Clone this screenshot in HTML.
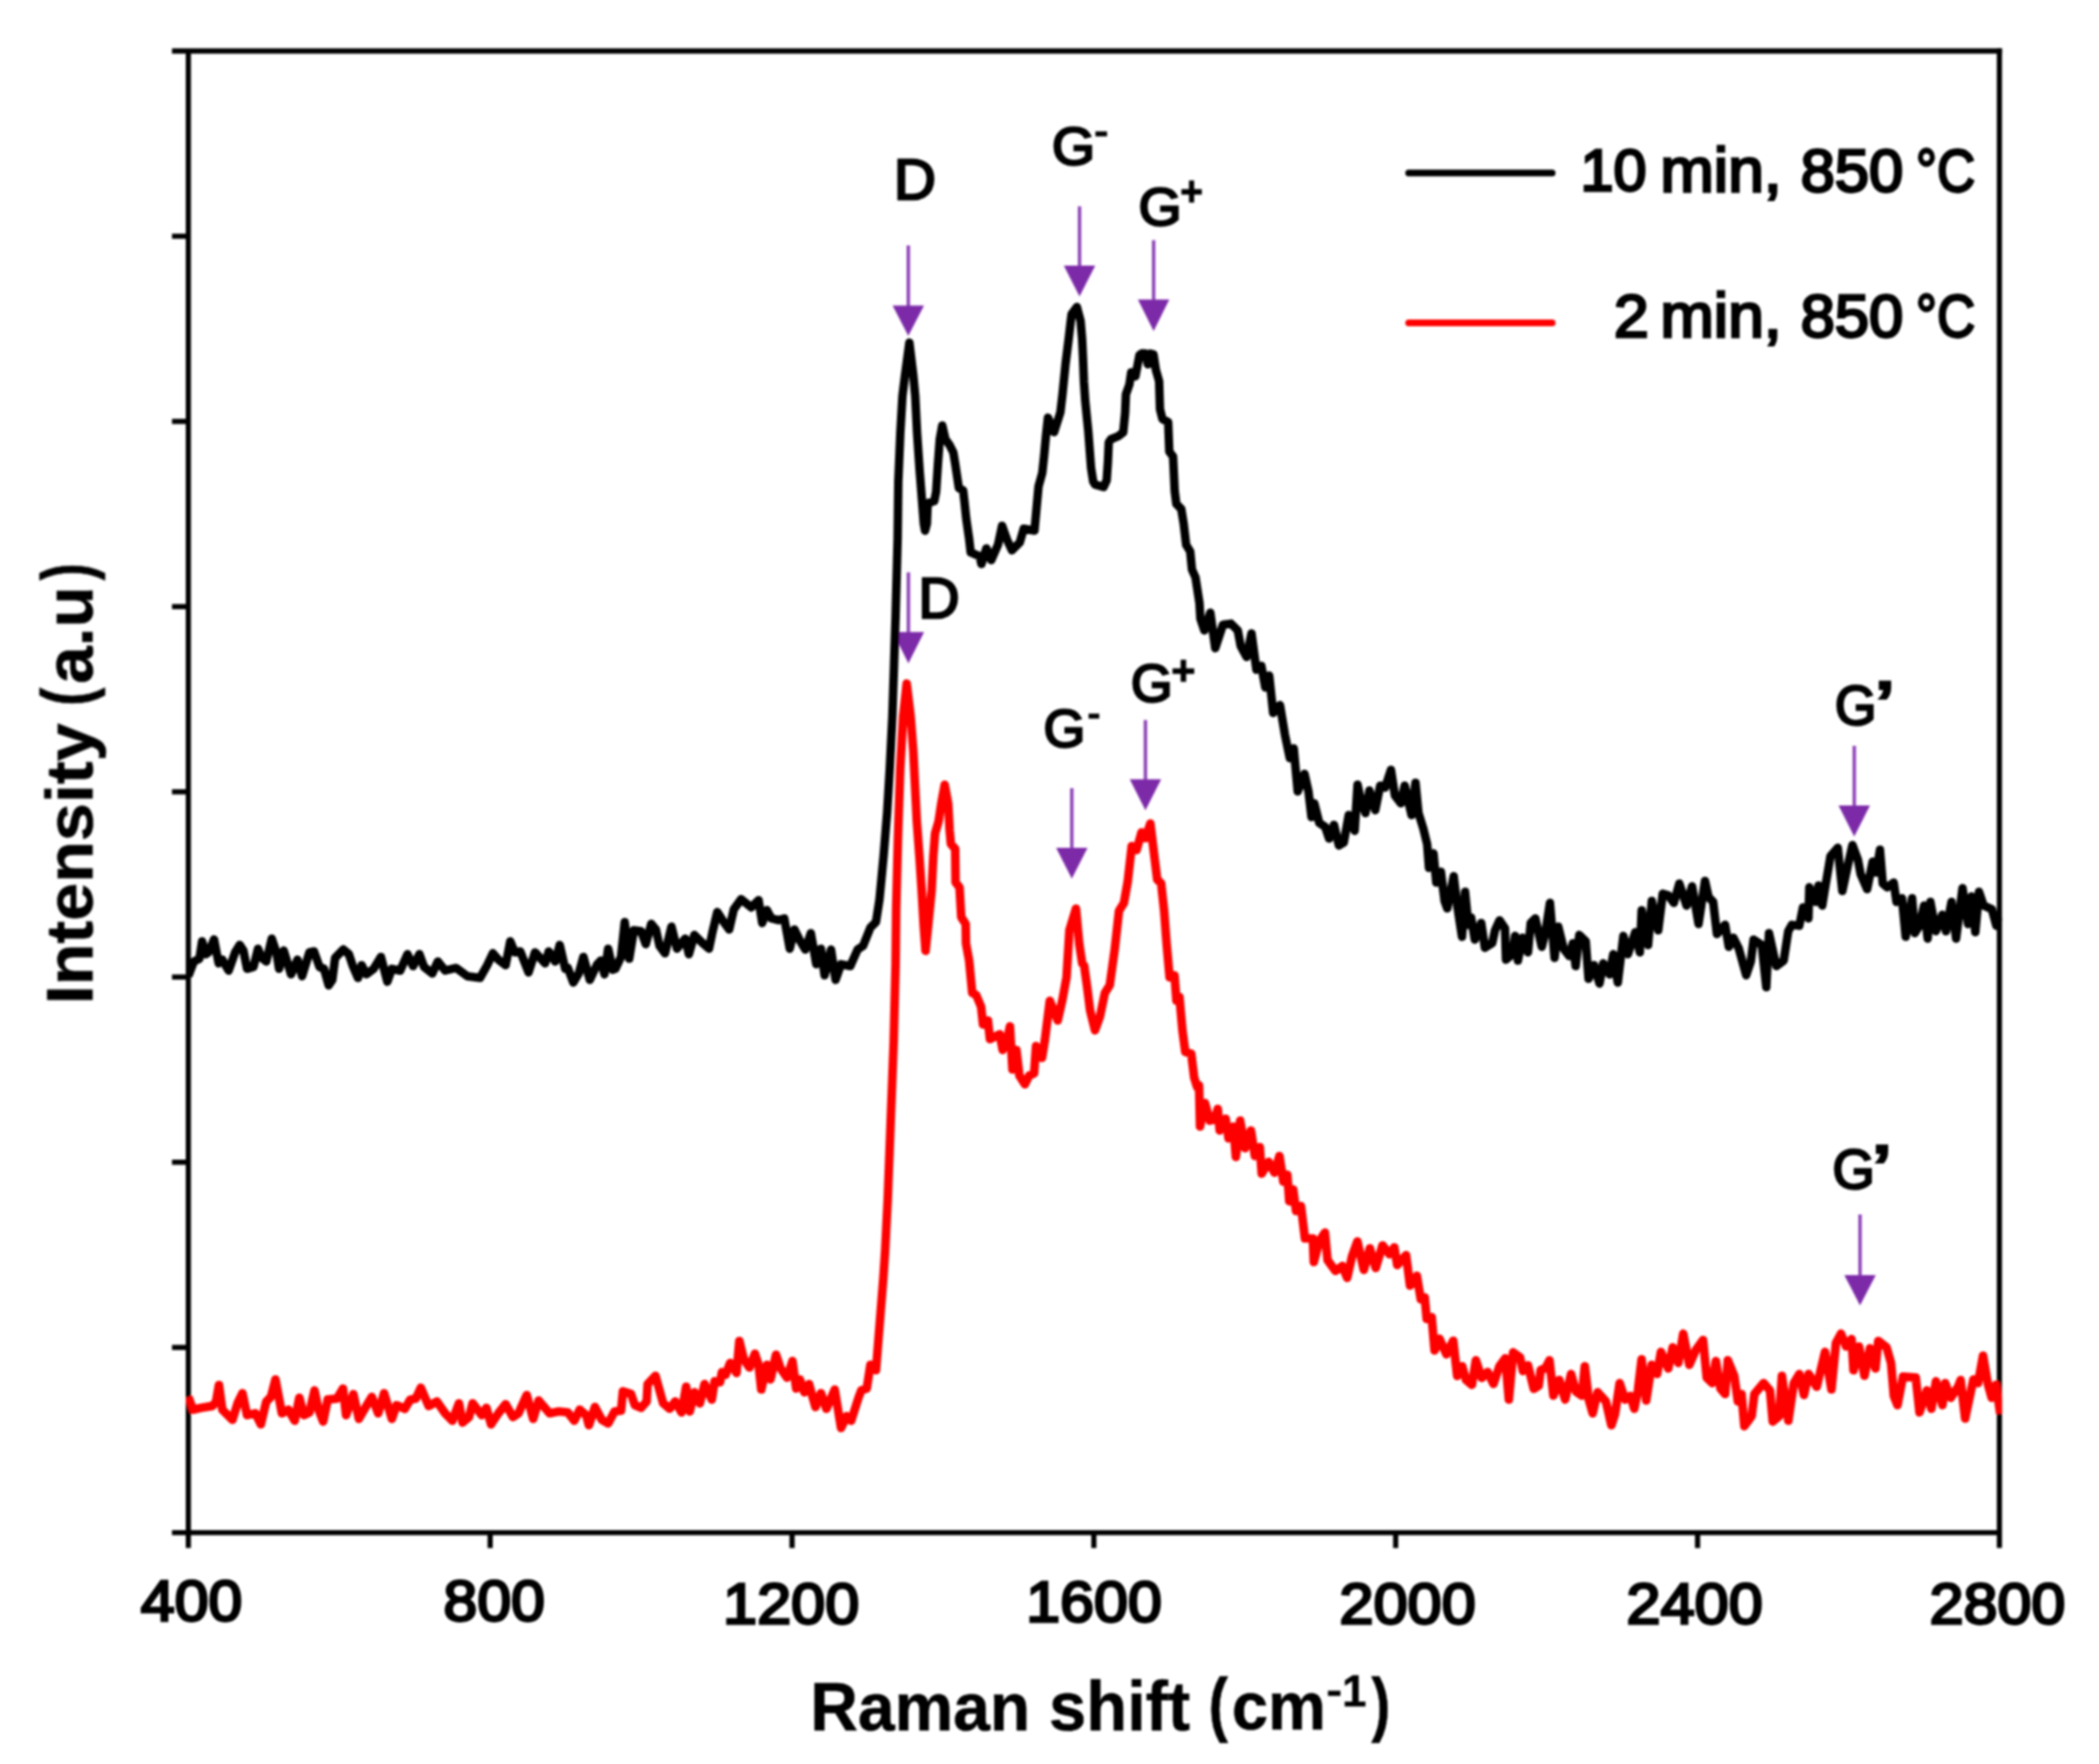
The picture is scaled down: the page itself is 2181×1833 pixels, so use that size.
<!DOCTYPE html>
<html lang="en"><head><meta charset="utf-8"><title>Raman spectra</title>
<style>html,body{margin:0;padding:0;background:#fff}svg{display:block}</style></head>
<body>
<svg width="2181" height="1833" viewBox="0 0 2181 1833">
<rect width="2181" height="1833" fill="#fff"/>
<defs><filter id="soft" x="0" y="0" width="100%" height="100%" filterUnits="userSpaceOnUse"><feGaussianBlur stdDeviation="1.0"/></filter><clipPath id="plot"><rect x="193" y="40" width="1887.2" height="1560"/></clipPath></defs>
<g filter="url(#soft)">
<g id="arrows"><line x1="943.8" y1="255" x2="943.8" y2="318.5" stroke="#8f45b8" stroke-width="3.6"/><polygon points="927.5,317.5 960.0999999999999,317.5 943.8,349" fill="#7d2aa8"/><line x1="1121.7" y1="214.4" x2="1121.7" y2="277" stroke="#8f45b8" stroke-width="3.6"/><polygon points="1105.4,276 1138.0,276 1121.7,308" fill="#7d2aa8"/><line x1="1198.7" y1="249.6" x2="1198.7" y2="312.3" stroke="#8f45b8" stroke-width="3.6"/><polygon points="1182.4,311.3 1215.0,311.3 1198.7,344" fill="#7d2aa8"/><line x1="943.9" y1="594.7" x2="943.9" y2="657.8" stroke="#8f45b8" stroke-width="3.6"/><polygon points="927.6,656.8 960.1999999999999,656.8 943.9,689.3" fill="#7d2aa8"/><line x1="1113.7" y1="819" x2="1113.7" y2="882" stroke="#8f45b8" stroke-width="3.6"/><polygon points="1097.4,881 1130.0,881 1113.7,913" fill="#7d2aa8"/><line x1="1190.2" y1="748.2" x2="1190.2" y2="810.8" stroke="#8f45b8" stroke-width="3.6"/><polygon points="1173.9,809.8 1206.5,809.8 1190.2,842" fill="#7d2aa8"/><line x1="1926.7" y1="775" x2="1926.7" y2="838" stroke="#8f45b8" stroke-width="3.6"/><polygon points="1910.4,837 1943.0,837 1926.7,869.2" fill="#7d2aa8"/><line x1="1932.7" y1="1262" x2="1932.7" y2="1326" stroke="#8f45b8" stroke-width="3.6"/><polygon points="1916.4,1325 1949.0,1325 1932.7,1356.4" fill="#7d2aa8"/></g>
<g id="axes" stroke="#000" stroke-width="5.4" fill="none" stroke-linecap="butt"><line x1="178.7" y1="53.0" x2="2080.2" y2="53.0"/><line x1="195.7" y1="53.0" x2="195.7" y2="1608.6"/><line x1="2077.5" y1="50.3" x2="2077.5" y2="1608.6"/><line x1="178.7" y1="1592.6" x2="2077.5" y2="1592.6"/><line x1="178.7" y1="245.45" x2="195.7" y2="245.45"/><line x1="178.7" y1="437.9" x2="195.7" y2="437.9"/><line x1="178.7" y1="630.3499999999999" x2="195.7" y2="630.3499999999999"/><line x1="178.7" y1="822.8" x2="195.7" y2="822.8"/><line x1="178.7" y1="1015.25" x2="195.7" y2="1015.25"/><line x1="178.7" y1="1207.6999999999998" x2="195.7" y2="1207.6999999999998"/><line x1="178.7" y1="1400.1499999999999" x2="195.7" y2="1400.1499999999999"/><line x1="509.3" y1="1592.6" x2="509.3" y2="1608.6"/><line x1="823.0" y1="1592.6" x2="823.0" y2="1608.6"/><line x1="1136.6" y1="1592.6" x2="1136.6" y2="1608.6"/><line x1="1450.2" y1="1592.6" x2="1450.2" y2="1608.6"/><line x1="1763.9" y1="1592.6" x2="1763.9" y2="1608.6"/></g>
<g clip-path="url(#plot)"><g>
<path id="c10" d="M195.7,1014.3 L201.4,999.1 L207.2,996.2 L210.0,978.1 L213.8,991.5 L216.7,989.6 L222.4,976.2 L227.2,1001.0 L231.0,997.2 L237.6,1008.6 L244.3,989.6 L249.1,981.9 L252.9,987.7 L256.7,1006.7 L263.4,1004.8 L268.1,985.8 L271.9,995.3 L276.7,999.1 L282.4,975.3 L287.2,989.6 L290.0,1006.7 L294.8,987.7 L302.4,1012.4 L309.1,997.2 L313.9,1014.3 L321.5,989.6 L326.3,988.6 L332.0,1004.8 L336.7,1006.7 L341.5,1023.9 L345.3,1018.2 L348.2,995.3 L356.7,986.7 L362.5,991.5 L366.3,1002.9 L372.0,1016.2 L375.8,1002.9 L380.6,1012.4 L388.2,1006.7 L395.8,994.3 L402.5,1020.1 L407.2,1006.7 L415.8,1008.6 L423.4,991.5 L429.2,1003.9 L435.8,991.5 L440.6,1004.8 L449.2,1011.5 L454.9,999.1 L462.5,1008.6 L473.9,1005.8 L485.4,1014.3 L498.7,1016.2 L506.3,1002.9 L512.1,990.5 L517.8,997.2 L525.4,1002.9 L530.2,978.1 L534.9,989.6 L540.6,988.6 L549.2,1010.5 L555.9,989.6 L566.4,1001.0 L570.2,988.6 L576.9,999.1 L581.6,981.9 L587.3,1006.7 L590.0,1005.8 L595.7,1021.0 L601.4,1011.5 L606.2,994.3 L612.9,1018.2 L620.5,1002.0 L624.3,998.2 L628.1,1012.4 L631.9,985.8 L636.7,1007.7 L639.5,1006.7 L645.3,994.3 L649.1,958.1 L653.8,996.2 L658.6,966.7 L666.2,967.7 L671.0,981.0 L676.7,960.0 L681.5,965.8 L685.3,982.9 L691.0,990.5 L697.7,962.9 L703.4,985.8 L712.0,975.3 L715.8,991.5 L721.5,971.5 L729.1,979.1 L736.7,985.8 L740.5,967.7 L745.3,947.7 L752.0,958.1 L757.7,965.8 L762.5,944.8 L770.1,934.3 L780.6,942.9 L788.2,935.3 L792.0,959.1 L796.8,945.7 L801.5,954.3 L809.2,956.2 L814.9,954.3 L820.6,985.8 L825.4,965.8 L831.1,977.2 L836.8,986.7 L842.5,969.6 L848.2,1002.0 L853.0,985.8 L856.8,1013.4 L863.5,986.7 L868.2,1018.2 L873.9,1002.0 L883.5,1003.9 L891.1,986.7 L896.8,982.9 L904.4,963.8 L910.2,958.1 L913.8,934.8 L916.0,912.0 L918.1,889.5 L921.8,844.2 L924.5,798.8 L927.2,744.4 L929.0,690.0 L930.6,640.0 L932.7,560.0 L933.4,500.8 L935.5,449.8 L937.7,411.5 L940.2,391.1 L944.9,356.0 L949.1,391.1 L951.0,411.5 L952.9,449.8 L955.5,488.1 L958.0,519.9 L959.9,544.2 L961.2,551.5 L963.1,544.2 L963.8,526.3 L965.1,522.5 L970.8,520.6 L972.7,511.0 L974.6,481.7 L976.5,456.2 L979.1,442.1 L982.3,456.2 L986.7,462.6 L990.6,470.2 L992.5,481.7 L994.4,494.4 L996.3,507.2 L1000.8,509.7 L1002.0,519.9 L1004.0,539.1 L1007.0,560.0 L1008.6,573.9 L1017.8,578.0 L1019.8,586.1 L1024.9,569.8 L1030.0,582.0 L1037.1,565.7 L1041.2,546.3 L1046.3,560.6 L1051.4,571.8 L1059.6,563.7 L1063.7,549.4 L1074.9,551.4 L1079.1,505.5 L1083.0,491.4 L1084.9,473.6 L1086.8,453.2 L1088.9,434.0 L1095.3,449.0 L1101.8,428.5 L1104.0,409.8 L1107.2,377.9 L1110.4,352.4 L1112.6,333.3 L1113.5,326.3 L1118.9,319.0 L1122.8,333.3 L1124.4,352.4 L1125.3,371.5 L1126.3,397.0 L1127.6,416.2 L1130.8,448.1 L1133.7,486.3 L1135.9,500.4 L1137.8,503.5 L1146.7,506.1 L1149.9,499.1 L1151.2,479.9 L1152.1,459.5 L1154.4,456.4 L1162.0,453.2 L1167.1,449.3 L1169.1,428.9 L1169.9,409.8 L1173.5,399.6 L1175.4,386.8 L1179.8,391.0 L1184.0,368.9 L1186.6,367.2 L1190.3,367.4 L1192.7,378.5 L1195.1,367.4 L1198.6,368.3 L1201.0,384.2 L1204.4,396.1 L1205.3,425.1 L1207.8,435.3 L1213.8,438.7 L1215.0,469.3 L1218.9,474.4 L1220.6,510.1 L1222.3,523.7 L1227.4,528.8 L1229.9,544.1 L1232.5,566.2 L1236.7,573.0 L1238.5,591.7 L1242.2,600.0 L1246.3,626.5 L1247.3,642.9 L1251.4,655.1 L1257.6,636.7 L1262.7,673.5 L1270.8,649.0 L1279.0,648.0 L1286.1,655.1 L1289.2,671.4 L1295.3,682.7 L1300.4,658.2 L1305.5,695.9 L1310.6,691.8 L1314.7,714.3 L1318.8,702.0 L1322.9,740.8 L1330.0,732.7 L1335.1,763.3 L1340.2,787.8 L1344.3,777.6 L1348.4,822.4 L1355.5,804.1 L1359.6,822.4 L1362.7,849.0 L1365.7,834.7 L1370.8,855.1 L1376.9,859.2 L1381.0,871.4 L1386.1,857.1 L1391.2,878.6 L1396.3,875.5 L1401.4,846.9 L1407.6,863.3 L1410.6,815.3 L1414.7,834.7 L1418.8,844.9 L1422.9,821.4 L1429.0,841.8 L1434.1,816.3 L1439.2,818.4 L1445.3,800.0 L1449.4,826.5 L1455.5,834.7 L1459.6,816.3 L1466.7,846.9 L1470.8,813.3 L1473.9,844.9 L1479.0,861.2 L1482.9,877.2 L1484.8,901.9 L1489.5,886.7 L1492.4,917.2 L1497.2,905.8 L1501.0,936.2 L1503.8,943.9 L1510.5,910.5 L1514.3,942.0 L1519.1,973.4 L1522.3,926.7 L1525.7,961.0 L1528.6,953.4 L1532.4,976.3 L1539.1,959.1 L1542.9,984.8 L1550.5,980.1 L1553.4,966.7 L1558.1,956.3 L1563.8,964.8 L1564.8,997.2 L1571.5,991.5 L1574.3,972.5 L1577.2,998.2 L1582.0,974.4 L1587.7,989.6 L1590.5,959.1 L1595.3,954.3 L1602.0,983.9 L1605.8,968.6 L1610.5,938.2 L1615.3,995.3 L1619.1,962.9 L1624.8,985.8 L1630.5,993.4 L1634.4,980.1 L1637.2,1003.9 L1641.0,971.5 L1647.7,978.2 L1650.6,1017.2 L1656.3,1002.9 L1662.0,1022.0 L1665.8,1001.0 L1672.5,1012.5 L1676.3,991.5 L1681.0,1021.0 L1686.8,972.5 L1691.5,991.5 L1699.2,968.6 L1703.9,989.6 L1705.8,945.8 L1712.5,982.0 L1716.3,936.2 L1723.0,966.7 L1727.7,928.6 L1733.5,930.5 L1739.2,938.2 L1744.9,918.1 L1752.5,941.0 L1758.2,921.0 L1764.9,960.1 L1771.6,915.3 L1775.4,932.4 L1780.1,937.2 L1784.0,970.5 L1792.5,961.0 L1796.3,983.9 L1801.1,974.4 L1806.8,985.8 L1814.4,1013.4 L1819.2,999.1 L1822.1,976.3 L1830.6,982.0 L1835.3,1025.8 L1838.1,969.6 L1845.7,1003.9 L1853.4,998.2 L1858.1,967.7 L1861.9,961.0 L1869.6,962.0 L1873.4,942.9 L1879.1,954.4 L1880.0,922.0 L1886.7,937.2 L1889.6,920.1 L1893.4,941.0 L1896.2,923.9 L1902.0,889.6 L1909.6,881.0 L1914.3,925.8 L1920.1,899.1 L1924.8,878.1 L1930.5,893.4 L1933.4,908.6 L1940.1,923.9 L1945.8,895.3 L1949.6,906.7 L1953.4,882.9 L1956.3,918.2 L1961.0,922.0 L1967.7,917.2 L1970.6,937.2 L1976.3,933.4 L1980.1,973.4 L1986.8,933.4 L1989.6,969.6 L1994.4,962.0 L1999.2,941.0 L2003.0,975.3 L2005.8,937.2 L2011.5,967.7 L2018.2,950.5 L2022.0,967.7 L2027.7,937.2 L2032.5,975.3 L2039.2,922.9 L2044.9,960.1 L2048.7,931.5 L2052.5,968.7 L2056.3,926.7 L2061.1,941.0 L2069.7,944.8 L2074.4,962.0 L2077.3,952.5" fill="none" stroke="#000" stroke-width="8.8" stroke-linejoin="round" stroke-linecap="butt"/>
<path id="c2" d="M195.7,1451.5 L200.5,1464.8 L209.1,1462.9 L220.5,1461.0 L224.3,1457.2 L227.5,1439.1 L231.0,1464.8 L241.5,1475.3 L247.2,1457.2 L251.9,1447.7 L256.7,1470.5 L265.3,1468.6 L271.0,1480.1 L276.7,1456.3 L281.5,1451.5 L286.2,1433.4 L290.0,1453.4 L292.9,1468.6 L299.6,1464.8 L306.2,1476.3 L311.0,1452.4 L315.8,1470.5 L321.5,1467.7 L326.8,1444.8 L331.0,1464.8 L335.8,1477.2 L340.5,1454.3 L350.1,1453.4 L356.4,1442.9 L359.6,1470.5 L367.2,1448.6 L372.9,1474.4 L380.6,1461.0 L386.3,1451.5 L393.0,1468.6 L399.1,1447.7 L407.2,1474.4 L412.0,1460.1 L420.6,1463.9 L426.3,1454.3 L432.0,1453.4 L437.2,1442.0 L445.4,1461.0 L453.9,1456.3 L462.5,1468.6 L470.1,1476.3 L476.8,1458.2 L480.6,1478.2 L487.3,1472.5 L491.1,1458.2 L500.6,1470.5 L505.4,1462.9 L510.2,1480.1 L517.8,1468.6 L525.4,1459.1 L533.0,1472.5 L538.7,1468.6 L547.3,1449.6 L554.0,1474.4 L559.7,1455.3 L571.1,1468.6 L580.7,1466.7 L590.0,1467.7 L596.7,1476.3 L602.4,1464.8 L609.1,1470.6 L611.9,1481.0 L618.2,1462.0 L625.3,1475.3 L631.9,1479.1 L638.6,1466.7 L645.3,1465.8 L647.2,1445.8 L655.7,1448.6 L659.6,1460.1 L666.2,1462.9 L671.9,1456.3 L672.9,1438.2 L681.1,1429.6 L685.3,1444.8 L689.1,1458.2 L695.8,1463.9 L701.5,1456.3 L708.2,1467.7 L712.9,1441.0 L716.7,1466.7 L721.5,1446.7 L727.2,1458.2 L732.0,1438.2 L739.6,1454.4 L742.5,1435.3 L748.2,1436.3 L750.1,1425.8 L753.9,1428.6 L758.7,1416.2 L765.3,1426.7 L768.2,1393.4 L772.9,1412.4 L778.7,1421.0 L784.4,1406.7 L788.2,1418.2 L791.0,1443.9 L796.8,1418.2 L800.6,1433.4 L806.3,1407.7 L811.1,1422.0 L817.7,1431.5 L823.4,1414.3 L827.3,1442.9 L831.1,1433.4 L835.8,1446.7 L840.6,1438.2 L847.3,1462.0 L853.0,1447.7 L858.7,1463.9 L867.3,1443.9 L873.9,1483.9 L879.7,1471.5 L884.4,1476.3 L892.0,1452.5 L894.9,1444.8 L900.6,1442.9 L904.4,1418.2 L910.2,1423.9 L914.0,1376.2 L917.8,1328.6 L919.7,1300.0 L922.4,1246.1 L925.5,1164.5 L928.6,1082.9 L930.6,1001.2 L931.2,943.9 L933.0,871.4 L935.4,798.8 L938.4,744.4 L942.1,710.3 L946.2,744.4 L949.0,780.7 L950.8,817.0 L952.6,853.2 L955.3,889.5 L957.7,925.8 L959.8,962.0 L961.7,988.0 L964.4,962.0 L968.0,925.8 L969.8,889.5 L971.6,865.9 L975.3,853.2 L978.0,835.1 L981.6,815.5 L985.2,835.1 L986.7,862.3 L988.0,876.8 L992.5,882.2 L992.9,916.7 L997.0,922.1 L998.8,953.0 L1003.4,960.2 L1003.7,980.2 L1007.0,998.3 L1010.2,1031.8 L1014.3,1033.9 L1019.4,1046.1 L1021.4,1064.5 L1026.5,1060.4 L1028.6,1079.8 L1038.8,1074.7 L1041.8,1091.0 L1045.9,1082.9 L1049.4,1066.5 L1052.0,1111.4 L1056.1,1091.0 L1059.2,1117.6 L1064.9,1126.7 L1069.4,1117.6 L1074.5,1115.5 L1076.5,1086.9 L1082.7,1099.2 L1085.7,1080.8 L1090.8,1040.0 L1099.0,1060.4 L1104.1,1038.0 L1108.2,1015.5 L1111.2,966.5 L1118.0,944.1 L1121.4,980.8 L1124.5,1001.2 L1126.5,1003.3 L1129.6,1025.7 L1132.7,1050.2 L1137.8,1070.6 L1142.9,1056.3 L1148.0,1031.8 L1153.1,1023.7 L1158.2,986.9 L1162.7,946.5 L1167.8,938.4 L1171.8,915.9 L1175.9,879.2 L1181.0,883.3 L1186.1,864.9 L1190.2,871.0 L1195.3,855.7 L1198.4,881.2 L1202.4,913.9 L1206.5,918.0 L1209.6,946.5 L1212.2,980.8 L1215.3,1015.5 L1220.4,1013.5 L1222.4,1040.0 L1225.5,1035.9 L1228.6,1070.6 L1231.6,1093.1 L1237.8,1095.1 L1240.8,1119.6 L1243.9,1129.8 L1245.9,1127.8 L1246.9,1170.6 L1252.0,1146.1 L1257.1,1164.5 L1262.2,1163.5 L1265.3,1152.2 L1267.3,1174.7 L1273.5,1162.4 L1276.5,1182.9 L1281.6,1170.6 L1284.1,1202.2 L1288.6,1164.5 L1293.7,1193.1 L1299.8,1174.7 L1303.9,1201.2 L1309.0,1192.0 L1311.0,1219.6 L1318.2,1207.3 L1324.3,1218.6 L1329.4,1201.2 L1333.5,1227.8 L1337.6,1220.6 L1339.6,1248.2 L1343.7,1235.9 L1346.7,1258.4 L1351.8,1253.3 L1355.9,1286.9 L1364.1,1286.9 L1365.1,1311.4 L1371.2,1289.0 L1376.7,1280.8 L1379.4,1309.4 L1387.6,1320.6 L1394.7,1315.5 L1399.8,1327.8 L1404.9,1305.3 L1410.4,1290.0 L1417.1,1319.6 L1423.3,1297.1 L1429.4,1317.6 L1436.5,1294.1 L1443.7,1303.3 L1448.8,1296.1 L1451.8,1314.5 L1461.0,1304.3 L1465.1,1335.9 L1472.2,1325.7 L1476.3,1350.2 L1480.4,1348.2 L1482.4,1370.6 L1487.6,1368.6 L1490.6,1403.3 L1495.7,1391.0 L1502.9,1407.3 L1510.0,1393.1 L1514.1,1429.8 L1519.2,1419.6 L1523.3,1433.9 L1529.4,1439.0 L1533.5,1413.5 L1539.6,1431.8 L1545.7,1425.7 L1551.8,1438.0 L1558.0,1419.6 L1564.1,1411.4 L1567.8,1454.3 L1572.2,1405.3 L1579.4,1410.4 L1582.4,1424.7 L1587.6,1418.6 L1593.7,1443.1 L1598.8,1440.0 L1600.8,1423.7 L1605.9,1421.6 L1610.0,1413.5 L1614.1,1450.2 L1620.2,1433.9 L1626.3,1454.3 L1632.4,1427.8 L1637.6,1446.1 L1643.7,1450.2 L1646.7,1419.6 L1650.8,1454.3 L1654.9,1468.6 L1660.0,1446.7 L1668.6,1456.3 L1674.3,1481.0 L1678.1,1469.6 L1682.9,1437.2 L1688.6,1454.4 L1694.3,1450.5 L1698.1,1463.9 L1701.9,1444.8 L1705.7,1412.4 L1710.5,1455.3 L1716.2,1418.2 L1721.9,1427.7 L1725.8,1404.8 L1733.4,1422.0 L1738.1,1400.0 L1743.9,1416.2 L1749.0,1385.8 L1755.3,1418.2 L1762.0,1402.9 L1769.6,1392.4 L1773.4,1431.5 L1779.1,1437.2 L1782.9,1414.3 L1787.7,1442.9 L1792.5,1448.6 L1795.3,1413.4 L1802.0,1429.6 L1805.8,1456.3 L1809.6,1448.6 L1812.5,1482.0 L1820.1,1471.5 L1822.9,1448.6 L1832.5,1437.2 L1839.1,1444.8 L1842.0,1477.2 L1848.7,1471.5 L1851.5,1429.6 L1858.2,1476.3 L1863.9,1437.2 L1869.6,1427.7 L1874.4,1449.6 L1879.2,1427.7 L1887.7,1441.0 L1896.3,1404.8 L1903.0,1443.9 L1907.7,1395.3 L1912.9,1385.8 L1918.2,1399.1 L1923.9,1391.5 L1925.9,1423.9 L1931.6,1399.1 L1937.3,1429.6 L1943.0,1401.0 L1948.7,1422.0 L1951.6,1393.4 L1960.2,1400.0 L1964.9,1416.2 L1967.8,1450.5 L1971.6,1460.1 L1977.3,1430.5 L1990.6,1431.5 L1994.5,1467.7 L2002.1,1444.8 L2006.8,1463.9 L2011.6,1435.3 L2018.3,1460.1 L2021.1,1437.2 L2026.9,1452.5 L2034.5,1441.0 L2037.2,1434.0 L2041.9,1474.0 L2050.5,1433.4 L2055.3,1437.2 L2060.5,1408.6 L2065.5,1438.0 L2069.5,1452.5 L2074.0,1439.0 L2078.4,1469.0" fill="none" stroke="#fe0000" stroke-width="8.9" stroke-linejoin="round" stroke-linecap="butt"/>
</g></g>
<line x1="1463.7" y1="179.8" x2="1612.8" y2="179.8" stroke="#000" stroke-width="7" stroke-linecap="round"/>
<line x1="1463.7" y1="335.6" x2="1612.8" y2="335.6" stroke="#fe0000" stroke-width="7" stroke-linecap="round"/>
<g id="labels"><text font-family="'Liberation Sans', sans-serif" font-size="10" fill="#000" stroke="#000" ><tspan x="146.2" y="1684.35" font-size="59.41" font-weight="normal" stroke-width="2.8" textLength="105.61" lengthAdjust="spacingAndGlyphs">400</tspan></text><text font-family="'Liberation Sans', sans-serif" font-size="10" fill="#000" stroke="#000" ><tspan x="460.76" y="1684.35" font-size="59.41" font-weight="normal" stroke-width="2.8" textLength="105.45" lengthAdjust="spacingAndGlyphs">800</tspan></text><text font-family="'Liberation Sans', sans-serif" font-size="10" fill="#000" stroke="#000" ><tspan x="751.38" y="1687.04" font-size="59.8" font-weight="normal" stroke-width="2.8" textLength="141.36" lengthAdjust="spacingAndGlyphs">1200</tspan></text><text font-family="'Liberation Sans', sans-serif" font-size="10" fill="#000" stroke="#000" ><tspan x="1066.28" y="1684.64" font-size="59.8" font-weight="normal" stroke-width="2.8" textLength="140.94" lengthAdjust="spacingAndGlyphs">1600</tspan></text><text font-family="'Liberation Sans', sans-serif" font-size="10" fill="#000" stroke="#000" ><tspan x="1391.71" y="1687.15" font-size="59.41" font-weight="normal" stroke-width="2.8" textLength="141.73" lengthAdjust="spacingAndGlyphs">2000</tspan></text><text font-family="'Liberation Sans', sans-serif" font-size="10" fill="#000" stroke="#000" ><tspan x="1690.01" y="1687.15" font-size="59.41" font-weight="normal" stroke-width="2.8" textLength="141.62" lengthAdjust="spacingAndGlyphs">2400</tspan></text><text font-family="'Liberation Sans', sans-serif" font-size="10" fill="#000" stroke="#000" ><tspan x="2005.12" y="1687.37" font-size="58.74" font-weight="normal" stroke-width="2.8" textLength="140.9" lengthAdjust="spacingAndGlyphs">2800</tspan></text><text font-family="'Liberation Sans', sans-serif" font-size="10" fill="#000" stroke="#000" ><tspan x="1642.21" y="198.31" font-size="61.73" font-weight="normal" stroke-width="2.8" textLength="68.65" lengthAdjust="spacingAndGlyphs">10</tspan> <tspan x="1725.27" y="198.5" font-size="64.06" font-weight="normal" stroke-width="2.8" textLength="125.99" lengthAdjust="spacingAndGlyphs">min,</tspan> <tspan x="1870.97" y="198.79" font-size="62.4" font-weight="normal" stroke-width="2.8" textLength="106.63" lengthAdjust="spacingAndGlyphs">850</tspan> <tspan x="1990.84" y="198.77" font-size="63.08" font-weight="normal" stroke-width="2.8" textLength="61.37" lengthAdjust="spacingAndGlyphs">°C</tspan></text><text font-family="'Liberation Sans', sans-serif" font-size="10" fill="#000" stroke="#000" ><tspan x="1676.9" y="350.09" font-size="62.82" font-weight="normal" stroke-width="2.8" textLength="36.15" lengthAdjust="spacingAndGlyphs">2</tspan> <tspan x="1725.27" y="349.5" font-size="64.06" font-weight="normal" stroke-width="2.8" textLength="125.99" lengthAdjust="spacingAndGlyphs">min,</tspan> <tspan x="1870.97" y="349.79" font-size="62.4" font-weight="normal" stroke-width="2.8" textLength="106.63" lengthAdjust="spacingAndGlyphs">850</tspan> <tspan x="1990.84" y="349.77" font-size="63.08" font-weight="normal" stroke-width="2.8" textLength="61.37" lengthAdjust="spacingAndGlyphs">°C</tspan></text><text font-family="'Liberation Sans', sans-serif" font-size="10" fill="#000" stroke="#000" ><tspan x="842.09" y="1797.79" font-size="70.56" font-weight="bold" stroke-width="0.6" textLength="228.26" lengthAdjust="spacingAndGlyphs">Raman</tspan> <tspan x="1090.01" y="1797.77" font-size="71.75" font-weight="bold" stroke-width="0.6" textLength="146.75" lengthAdjust="spacingAndGlyphs">shift</tspan> <tspan x="1255.7" y="1796.07" font-size="73.39" font-weight="bold" stroke-width="0.6" textLength="20.16" lengthAdjust="spacingAndGlyphs">(</tspan><tspan x="1279.97" y="1797.48" font-size="71.25" font-weight="bold" stroke-width="0.6" textLength="97.66" lengthAdjust="spacingAndGlyphs">cm</tspan><tspan x="1378.35" y="1769.95" font-size="40.63" font-weight="bold" stroke-width="0.6" textLength="16.04" lengthAdjust="spacingAndGlyphs">-</tspan><tspan x="1394.77" y="1773.0" font-size="46.72" font-weight="bold" stroke-width="0.6" textLength="25.01" lengthAdjust="spacingAndGlyphs">1</tspan><tspan x="1425.0" y="1796.07" font-size="73.39" font-weight="bold" stroke-width="0.6" textLength="19.58" lengthAdjust="spacingAndGlyphs">)</tspan></text><text font-family="'Liberation Sans', sans-serif" font-size="10" fill="#000" stroke="#000" ><tspan x="928.89" y="207.0" font-size="59.0" font-weight="normal" stroke-width="2.5" textLength="43.76" lengthAdjust="spacingAndGlyphs">D</tspan></text><text font-family="'Liberation Sans', sans-serif" font-size="10" fill="#000" stroke="#000" ><tspan x="1093.05" y="170.71" font-size="55.86" font-weight="normal" stroke-width="2.5" textLength="44.79" lengthAdjust="spacingAndGlyphs">G</tspan><tspan x="1136.91" y="151.6" font-size="48.0" font-weight="normal" stroke-width="1.6" textLength="14.54" lengthAdjust="spacingAndGlyphs">-</tspan></text><text font-family="'Liberation Sans', sans-serif" font-size="10" fill="#000" stroke="#000" ><tspan x="1183.05" y="233.69" font-size="56.38" font-weight="normal" stroke-width="2.5" textLength="44.79" lengthAdjust="spacingAndGlyphs">G</tspan><tspan x="1227.05" y="213.0" font-size="40.0" font-weight="normal" stroke-width="2.8" textLength="22.3" lengthAdjust="spacingAndGlyphs">+</tspan></text><text font-family="'Liberation Sans', sans-serif" font-size="10" fill="#000" stroke="#000" ><tspan x="954.18" y="641.7" font-size="58.86" font-weight="normal" stroke-width="2.5" textLength="42.84" lengthAdjust="spacingAndGlyphs">D</tspan></text><text font-family="'Liberation Sans', sans-serif" font-size="10" fill="#000" stroke="#000" ><tspan x="1084.21" y="775.71" font-size="55.86" font-weight="normal" stroke-width="2.5" textLength="43.44" lengthAdjust="spacingAndGlyphs">G</tspan><tspan x="1130.0" y="756.6" font-size="48.0" font-weight="normal" stroke-width="1.6" textLength="13.33" lengthAdjust="spacingAndGlyphs">-</tspan></text><text font-family="'Liberation Sans', sans-serif" font-size="10" fill="#000" stroke="#000" ><tspan x="1175.01" y="728.71" font-size="55.86" font-weight="normal" stroke-width="2.5" textLength="43.44" lengthAdjust="spacingAndGlyphs">G</tspan><tspan x="1217.78" y="710.5" font-size="40.0" font-weight="normal" stroke-width="2.8" textLength="23.78" lengthAdjust="spacingAndGlyphs">+</tspan></text><text font-family="'Liberation Sans', sans-serif" font-size="10" fill="#000" stroke="#000" ><tspan x="1906.51" y="753.44" font-size="57.95" font-weight="normal" stroke-width="2.5" textLength="43.33" lengthAdjust="spacingAndGlyphs">G</tspan><tspan x="1946.56" y="763.42" font-size="80.05" font-weight="normal" stroke-width="2.0" textLength="23.93" lengthAdjust="spacingAndGlyphs">’</tspan></text><text font-family="'Liberation Sans', sans-serif" font-size="10" fill="#000" stroke="#000" ><tspan x="1903.88" y="1235.44" font-size="57.82" font-weight="normal" stroke-width="2.5" textLength="44.0" lengthAdjust="spacingAndGlyphs">G</tspan><tspan x="1943.59" y="1245.34" font-size="79.65" font-weight="normal" stroke-width="2.0" textLength="23.76" lengthAdjust="spacingAndGlyphs">’</tspan></text></g>
<g id="ylabel" transform="translate(96.1,1040.8) rotate(-90)"><text font-family="'Liberation Sans', sans-serif" font-size="10" fill="#000" stroke="#000" ><tspan x="-2.86" y="0.08" font-size="69.15" font-weight="bold" stroke-width="0.6" textLength="292.09" lengthAdjust="spacingAndGlyphs">Intensity</tspan> <tspan x="307.36" y="-2.05" font-size="72.55" font-weight="bold" stroke-width="0.6" textLength="19.0" lengthAdjust="spacingAndGlyphs">(</tspan><tspan x="330.19" y="-0.29" font-size="69.46" font-weight="bold" stroke-width="0.6" textLength="101.57" lengthAdjust="spacingAndGlyphs">a.u</tspan><tspan x="437.8" y="-2.05" font-size="72.55" font-weight="bold" stroke-width="0.6" textLength="17.83" lengthAdjust="spacingAndGlyphs">)</tspan></text></g>
</g>
</svg>
</body></html>
